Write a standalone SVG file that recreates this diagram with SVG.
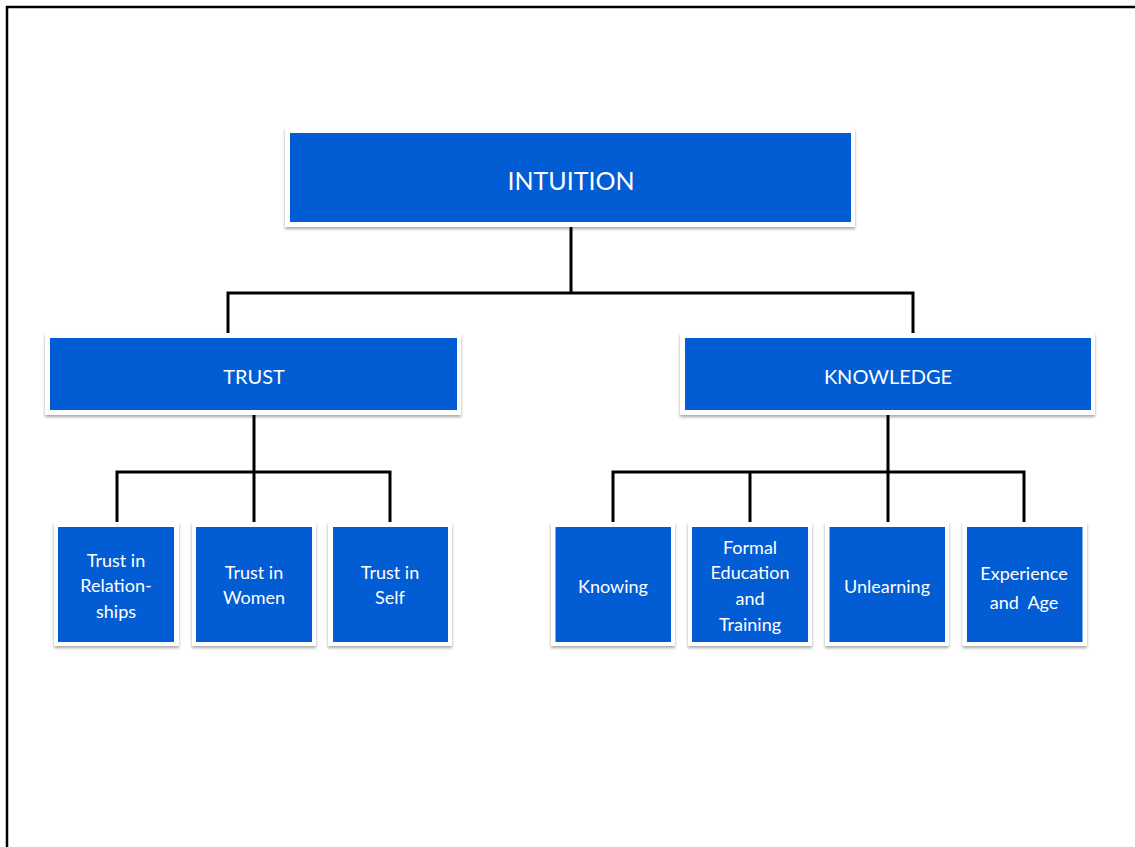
<svg xmlns="http://www.w3.org/2000/svg" width="1135" height="847" viewBox="0 0 1135 847">
  <defs>
    <filter id="sh" x="-10%" y="-10%" width="120%" height="130%">
      <feDropShadow dx="0" dy="2" stdDeviation="1.5" flood-color="#000" flood-opacity="0.35"/>
    </filter>
    <style>
      .frame { stroke: #000; stroke-width: 2.5; fill: none; }
      .outer { fill: #ffffff; filter: url(#sh); }
      .inner { fill: #025cd3; }
      .conn { stroke: #000; stroke-width: 3; fill: none; }
      text { font-family: Lato, "Open Sans", "Liberation Sans", sans-serif; fill: #ffffff; text-anchor: middle; }
      .t1 { font-size: 25px; }
      .t2 { font-size: 20px; }
      .t3 { font-size: 18px; }
    </style>
  </defs>
  <rect width="1135" height="847" fill="#ffffff"/>
  <path class="frame" d="M7,847 V7 H1135"/>

  <g id="connectors">
    <path class="conn" d="M571,227 V293"/>
    <path class="conn" d="M228,336 V293 H913 V338"/>
    <path class="conn" d="M254,415 V524"/>
    <path class="conn" d="M117,524 V472 H390 V524"/>
    <path class="conn" d="M888,415 V524"/>
    <path class="conn" d="M613,524 V472 H1024 V524"/>
    <path class="conn" d="M750,472 V524"/>
  </g>

  <g id="intuition">
    <rect class="outer" x="285" y="128" width="570" height="99"/>
    <rect class="inner" x="290" y="133" width="561" height="89"/>
    <text class="t1" x="571" y="190">INTUITION</text>
  </g>

  <g id="trust">
    <rect class="outer" x="45" y="333" width="416" height="82"/>
    <rect class="inner" x="50" y="338" width="407" height="72"/>
    <text class="t2" x="254" y="384">TRUST</text>
  </g>

  <g id="knowledge">
    <rect class="outer" x="680" y="333" width="415" height="82"/>
    <rect class="inner" x="685" y="338" width="406" height="72"/>
    <text class="t2" x="888" y="384">KNOWLEDGE</text>
  </g>

  <g id="trust-relationships">
    <rect class="outer" x="54" y="522" width="125" height="124"/>
    <rect class="inner" x="58" y="527" width="116" height="115"/>
    <text class="t3" x="116" y="567">Trust in</text>
    <text class="t3" x="116" y="592">Relation-</text>
    <text class="t3" x="116" y="618">ships</text>
  </g>

  <g id="trust-women">
    <rect class="outer" x="192" y="522" width="124" height="124"/>
    <rect class="inner" x="196" y="527" width="116" height="115"/>
    <text class="t3" x="254" y="579">Trust in</text>
    <text class="t3" x="254" y="604">Women</text>
  </g>

  <g id="trust-self">
    <rect class="outer" x="328" y="522" width="124" height="124"/>
    <rect class="inner" x="333" y="527" width="115" height="115"/>
    <text class="t3" x="390" y="579">Trust in</text>
    <text class="t3" x="390" y="604">Self</text>
  </g>

  <g id="knowing">
    <rect class="outer" x="551" y="522" width="124" height="124"/>
    <rect class="inner" x="555.5" y="527" width="115.5" height="115"/>
    <text class="t3" x="613" y="593">Knowing</text>
  </g>

  <g id="formal-education">
    <rect class="outer" x="688" y="522" width="124" height="124"/>
    <rect class="inner" x="692" y="527" width="116" height="115"/>
    <text class="t3" x="750" y="554">Formal</text>
    <text class="t3" x="750" y="579">Education</text>
    <text class="t3" x="750" y="605">and</text>
    <text class="t3" x="750" y="631">Training</text>
  </g>

  <g id="unlearning">
    <rect class="outer" x="825" y="522" width="124" height="124"/>
    <rect class="inner" x="829.5" y="527" width="115.5" height="115"/>
    <text class="t3" x="887" y="593">Unlearning</text>
  </g>

  <g id="experience-age">
    <rect class="outer" x="962.5" y="522" width="124.5" height="124"/>
    <rect class="inner" x="967" y="527" width="115.5" height="115"/>
    <text class="t3" x="1024" y="580">Experience</text>
    <text class="t3" x="1024" y="609" xml:space="preserve">and  Age</text>
  </g>
</svg>
